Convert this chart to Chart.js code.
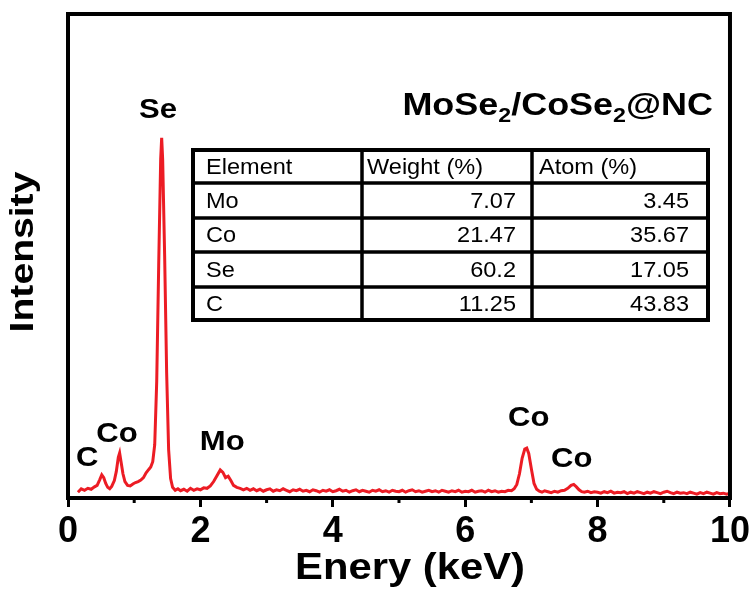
<!DOCTYPE html>
<html>
<head>
<meta charset="utf-8">
<script src="https://cdn.jsdelivr.net/npm/chart.js"></script>
<style>
  html, body { margin: 0; padding: 0; background: #fff; }
</style>
</head>
<body>
<canvas id="eds" width="753" height="591"></canvas>
<script>
// EDS spectrum (keV / arbitrary intensity 0-100)
const energy = [
  0.15, 0.20, 0.25, 0.30, 0.35, 0.40, 0.44, 0.48, 0.51, 0.54,
  0.57, 0.60, 0.63, 0.66, 0.70, 0.73, 0.76, 0.78, 0.80, 0.83,
  0.86, 0.90, 0.94, 0.98, 1.02, 1.06, 1.10, 1.14, 1.18, 1.22,
  1.25, 1.28, 1.31, 1.34, 1.37, 1.40, 1.415, 1.43, 1.46, 1.49,
  1.52, 1.55, 1.58, 1.62, 1.66, 1.70, 1.75, 1.80, 1.85, 1.90,
  1.95, 2.00, 2.05, 2.10, 2.15, 2.20, 2.25, 2.30, 2.34, 2.38,
  2.42, 2.46, 2.50, 2.55, 2.60, 2.65, 2.70, 2.75, 2.80, 2.85,
  2.90, 2.95, 3.00, 3.05, 3.10, 3.15, 3.20, 3.25, 3.30, 3.35,
  3.40, 3.45, 3.50, 3.55, 3.60, 3.65, 3.70, 3.75, 3.80, 3.85,
  3.90, 3.95, 4.00, 4.05, 4.10, 4.15, 4.20, 4.25, 4.30, 4.35,
  4.40, 4.45, 4.50, 4.55, 4.60, 4.65, 4.70, 4.75, 4.80, 4.85,
  4.90, 4.95, 5.00, 5.05, 5.10, 5.15, 5.20, 5.25, 5.30, 5.35,
  5.40, 5.45, 5.50, 5.55, 5.60, 5.65, 5.70, 5.75, 5.80, 5.85,
  5.90, 5.95, 6.00, 6.05, 6.10, 6.15, 6.20, 6.25, 6.30, 6.35,
  6.40, 6.45, 6.50, 6.55, 6.60, 6.65, 6.70, 6.74, 6.78, 6.82,
  6.86, 6.90, 6.93, 6.96, 7.00, 7.04, 7.08, 7.12, 7.16, 7.20,
  7.25, 7.30, 7.35, 7.40, 7.45, 7.50, 7.55, 7.60, 7.64, 7.68,
  7.72, 7.76, 7.80, 7.85, 7.90, 7.95, 8.00, 8.05, 8.10, 8.15,
  8.20, 8.25, 8.30, 8.35, 8.40, 8.45, 8.50, 8.55, 8.60, 8.65,
  8.70, 8.75, 8.80, 8.85, 8.90, 8.95, 9.00, 9.05, 9.10, 9.15,
  9.20, 9.25, 9.30, 9.35, 9.40, 9.45, 9.50, 9.55, 9.60, 9.65,
  9.70, 9.75, 9.80, 9.85, 9.90, 9.95, 10.00
];
const counts = [
  1.2, 1.9, 1.6, 2.0, 1.8, 2.3, 2.6, 3.8, 4.8, 4.2,
  3.0, 2.2, 1.9, 2.4, 3.6, 5.5, 8.4, 9.3, 7.6, 5.0,
  3.4, 2.6, 2.5, 2.9, 3.2, 3.4, 3.7, 4.2, 5.2, 5.9,
  6.4, 7.5, 11, 24, 48, 70, 74.4, 70, 50, 26,
  10, 4.0, 2.2, 1.6, 1.9, 1.5, 1.8, 1.4, 2.0, 1.6,
  1.9, 1.7, 2.1, 2.0, 2.5, 3.4, 4.6, 5.8, 5.3, 4.2,
  4.5, 3.6, 2.6, 2.2, 2.0, 1.7, 2.0, 1.6, 1.9, 1.5,
  1.8, 1.4, 1.7, 1.9, 1.4, 1.7, 1.5, 1.9, 1.6, 1.3,
  1.7, 1.5, 1.8, 1.4, 1.6, 1.3, 1.7, 1.5, 1.2, 1.6,
  1.4, 1.7, 1.3, 1.5, 1.8, 1.4, 1.6, 1.2, 1.5, 1.7,
  1.3, 1.6, 1.4, 1.2, 1.6, 1.4, 1.7, 1.3, 1.5, 1.2,
  1.6, 1.4, 1.3, 1.6, 1.2, 1.5, 1.7, 1.3, 1.5, 1.2,
  1.4, 1.6, 1.3, 1.5, 1.2, 1.6, 1.4, 1.2, 1.5, 1.3,
  1.6, 1.2, 1.4, 1.3, 1.6, 1.2, 1.4, 1.5, 1.2, 1.6,
  1.3, 1.5, 1.2, 1.4, 1.3, 1.6, 1.5, 1.9, 2.8, 5.0,
  8.2, 10.1, 10.3, 9.2, 6.0, 3.0, 1.8, 1.4, 1.2, 1.5,
  1.3, 1.1, 1.4, 1.2, 1.5, 1.6, 2.0, 2.6, 2.8, 2.3,
  1.7, 1.3, 1.2, 1.4, 1.1, 1.3, 1.2, 1.0, 1.3, 1.1,
  1.4, 1.0, 1.2, 1.1, 1.3, 0.9, 1.2, 1.0, 1.3, 1.1,
  0.9, 1.2, 1.0, 1.3, 1.1, 0.9, 1.2, 1.4, 1.1, 0.9,
  1.2, 1.0, 1.1, 0.9, 1.2, 1.0, 0.8, 1.1, 0.9, 1.2,
  1.0, 0.8, 1.1, 0.9, 1.0, 0.8, 1.0
];
const xTicks = [0, 2, 4, 6, 8, 10];
const xMinor = [1, 3, 5, 7, 9];

// peak labels, placed in data coordinates (keV, intensity)
const peakNames = ['C', 'Co', 'Se', 'Mo', 'Co', 'Co'];
const peakKeV   = [0.29, 0.74, 1.36, 2.33, 6.96, 7.61];
const peakLevel = [8.1, 13.2, 80.0, 11.4, 16.5, 7.9];

// composition table
const tableHead   = ['Element', 'Weight (%)', 'Atom (%)'];
const tableElem   = ['Mo', 'Co', 'Se', 'C'];
const tableWeight = ['7.07', '21.47', '60.2', '11.25'];
const tableAtom   = ['3.45', '35.67', '17.05', '43.83'];

const FONT = 'Arial, "Liberation Sans", sans-serif';

function say(ctx, s, x, y, font, sx, align, base, rot) {
  ctx.save();
  ctx.translate(x, y);
  if (rot) ctx.rotate(rot);
  ctx.scale(sx, 1);
  ctx.font = font;
  ctx.fillStyle = '#000';
  ctx.textAlign = align || 'center';
  ctx.textBaseline = base || 'middle';
  ctx.fillText(s, 0, 0);
  ctx.restore();
}

const decor = {
  id: 'decor',
  afterDraw(chart) {
    const ctx = chart.ctx;
    const a = chart.chartArea;
    const xs = chart.scales.x, ys = chart.scales.y;

    // frame
    ctx.save();
    ctx.strokeStyle = '#000';
    ctx.lineWidth = 4;
    ctx.strokeRect(a.left, a.top, a.right - a.left, a.bottom - a.top);
    // minor ticks
    ctx.lineWidth = 3;
    xMinor.forEach(v => {
      const px = xs.getPixelForValue(v);
      ctx.beginPath();
      ctx.moveTo(px, a.bottom);
      ctx.lineTo(px, a.bottom + 5);
      ctx.stroke();
    });
    ctx.restore();

    // axis titles
    say(ctx, 'Enery (keV)', 410, 579, 'bold 36px ' + FONT, 1.16, 'center', 'alphabetic');
    say(ctx, 'Intensity', 33, 252, 'bold 34px ' + FONT, 1.15, 'center', 'alphabetic', -Math.PI / 2);

    // peak labels
    peakNames.forEach((n, i) => {
      say(ctx, n, xs.getPixelForValue(peakKeV[i]), ys.getPixelForValue(peakLevel[i]),
          'bold 27px ' + FONT, 1.15, 'center', 'middle');
    });

    // sample title with subscripts
    const parts = [['MoSe', 0], ['2', 1], ['/CoSe', 0], ['2', 1], ['@NC', 0]];
    const sx = 1.16;
    ctx.save();
    let w = 0;
    parts.forEach(p => {
      ctx.font = (p[1] ? 'bold 20px ' : 'bold 31px ') + FONT;
      w += ctx.measureText(p[0]).width * sx;
    });
    ctx.restore();
    let x = 713 - w;
    parts.forEach(p => {
      const f = (p[1] ? 'bold 20px ' : 'bold 31px ') + FONT;
      say(ctx, p[0], x, p[1] ? 122 : 115, f, sx, 'left', 'alphabetic');
      ctx.save();
      ctx.font = f;
      x += ctx.measureText(p[0]).width * sx;
      ctx.restore();
    });

    // table
    const colX = [193, 362, 532, 708];
    const rowY = [150, 183, 218, 252, 287, 320];
    ctx.save();
    ctx.strokeStyle = '#000';
    ctx.lineWidth = 4;
    ctx.strokeRect(colX[0], rowY[0], colX[3] - colX[0], rowY[5] - rowY[0]);
    ctx.lineWidth = 3.5;
    colX.slice(1, 3).forEach(cx => {
      ctx.beginPath(); ctx.moveTo(cx, rowY[0]); ctx.lineTo(cx, rowY[5]); ctx.stroke();
    });
    rowY.slice(1, 5).forEach(ry => {
      ctx.beginPath(); ctx.moveTo(colX[0], ry); ctx.lineTo(colX[3], ry); ctx.stroke();
    });
    ctx.restore();
    const tf = '22px ' + FONT;
    const mid = r => (rowY[r] + rowY[r + 1]) / 2 + 1;
    say(ctx, tableHead[0], colX[0] + 13, mid(0), tf, 1.07, 'left');
    say(ctx, tableHead[1], colX[1] + 5, mid(0), tf, 1.07, 'left');
    say(ctx, tableHead[2], colX[2] + 7, mid(0), tf, 1.07, 'left');
    tableElem.forEach((e, i) => {
      say(ctx, e, colX[0] + 13, mid(i + 1), tf, 1.07, 'left');
      say(ctx, tableWeight[i], colX[2] - 16, mid(i + 1), tf, 1.07, 'right');
      say(ctx, tableAtom[i], colX[3] - 19, mid(i + 1), tf, 1.07, 'right');
    });
  }
};

new Chart(document.getElementById('eds'), {
  type: 'line',
  data: {
    datasets: [{
      data: energy.map((e, i) => ({ x: e, y: counts[i] })),
      borderColor: '#ec1c24',
      borderWidth: 3,
      pointRadius: 0,
      tension: 0,
      fill: false
    }]
  },
  options: {
    responsive: false,
    animation: false,
    devicePixelRatio: 1,
    layout: { padding: { left: 68, right: 23, top: 14, bottom: 0 } },
    plugins: { legend: { display: false }, tooltip: { enabled: false } },
    scales: {
      x: {
        type: 'linear',
        min: 0,
        max: 10,
        afterFit: s => { s.height = 93; },
        afterBuildTicks: s => { s.ticks = xTicks.map(v => ({ value: v })); },
        ticks: {
          font: { family: FONT, size: 36, weight: 'bold' },
          color: '#000',
          padding: 3,
          maxRotation: 0,
          autoSkip: false
        },
        grid: { drawOnChartArea: false, drawTicks: true, tickLength: 9, tickWidth: 3, tickColor: '#000' },
        border: { display: false }
      },
      y: { display: false, min: 0, max: 100 }
    }
  },
  plugins: [decor]
});
</script>
</body>
</html>
